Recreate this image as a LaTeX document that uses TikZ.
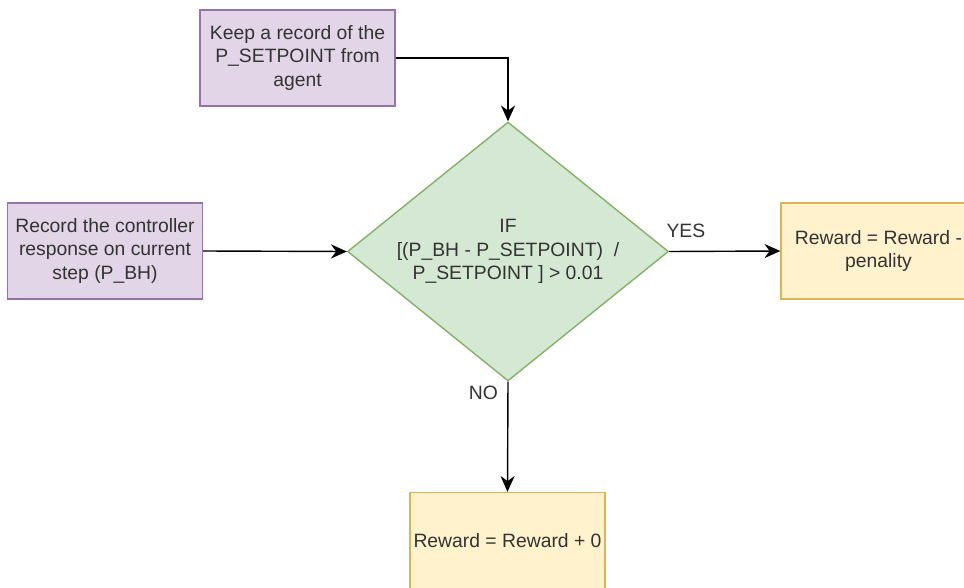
\documentclass[tikz,border=0pt]{standalone}
\usepackage{fontspec}
\setmainfont{Liberation Sans}
\usetikzlibrary{shapes.geometric,arrows.meta}

\definecolor{lilacfill}{HTML}{E1D5E7}
\definecolor{lilacline}{HTML}{9673A6}
\definecolor{sagefill}{HTML}{D5E8D4}
\definecolor{sageline}{HTML}{82B366}
\definecolor{creamfill}{HTML}{FFF2CC}
\definecolor{creamline}{HTML}{D6B656}

\tikzset{
	inbox/.style={draw=lilacline, fill=lilacfill, line width=0.8pt, rectangle, minimum width=3.9cm, minimum height=1.92cm, align=center, inner sep=0pt},
	outbox/.style={draw=creamline, fill=creamfill, line width=0.8pt, rectangle, minimum width=3.9cm, minimum height=1.92cm, align=center, inner sep=0pt},
	check/.style={draw=sageline, fill=sagefill, line width=0.8pt, diamond, aspect=1.24, minimum width=6.42cm, minimum height=5.18cm, align=center, inner sep=0pt},
	flow/.style={-{Stealth[length=9pt,width=8pt]}, line width=0.8pt, black},
	tag/.style={text=black!80, font=\fontsize{11}{13.4}\selectfont}
}

\begin{document}
\begin{tikzpicture}[x=0.02cm, y=-0.02cm, every node/.style={text=black!80, font=\fontsize{11}{13.4}\selectfont}]
	%%%%% canvas %%%%%
	\useasboundingbox (0,0) rectangle (964,588);

	%%%%% blocks %%%%%
	\node[inbox] (setpoint) at (297.5,58) {Keep a record of the\\P\_SETPOINT from\\agent};
	\node[inbox] (response) at (105,251) {Record the controller\\response on current\\step (P\_BH)};
	\node[check] (test) at (508,251.5) {IF\\{}[(P\_BH - P\_SETPOINT)~~/\\P\_SETPOINT ] > 0.01};
	\node[outbox] (penalty) at (878.5,251) {Reward = Reward -\\penality};
	\node[outbox] (keep) at (507.5,540.5) {Reward = Reward + 0};

	%%%%% links %%%%%
	\draw[flow] (setpoint.east) -| (test.north);
	\draw[flow] (response.east) -- (test.west);
	\draw[flow] (test.east) -- node[tag, above, pos=0.15, yshift=4pt] {YES} (penalty.west);
	\draw[flow] (test.south) -- node[tag, left, pos=0.1, xshift=-2pt] {NO} (keep.north);
\end{tikzpicture}
\end{document}
